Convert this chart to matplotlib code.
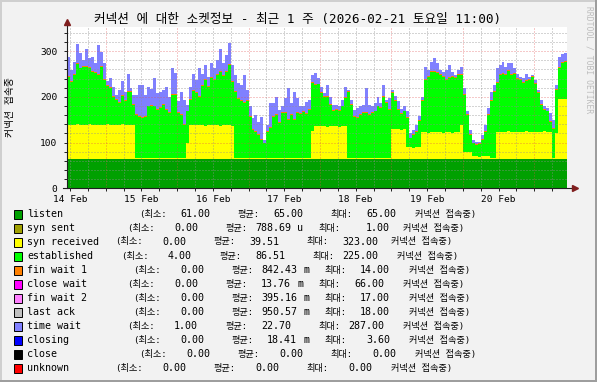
"""RRDtool-style weekly socket-state graph (stacked areas, hourly steps)."""

import numpy as np
import matplotlib
matplotlib.use("Agg")
import matplotlib.pyplot as plt
from matplotlib.patches import Rectangle

W, H = 597, 382
MONO = ["DejaVu Sans Mono", "Noto Sans CJK KR"]

TITLE = "커넥션 에 대한 소켓정보 - 최근 1 주 (2026-02-21 토요일 11:00)"
Y_LABEL = "커넥션 접속중"
DAY_LABELS = ["14 Feb", "15 Feb", "16 Feb", "17 Feb", "18 Feb", "19 Feb", "20 Feb"]

# hourly values, hour 0 = 14 Feb 11:00
LISTEN = 65
FIN_WAIT_1 = 2
SYN_RECEIVED = [
    74, 73, 74, 75, 74, 74, 73, 75, 74, 74, 73, 74,
    74, 75, 74, 73, 74, 74, 75, 74, 73, 74, 74, 2,
    2, 2, 2, 2, 2, 2, 2, 2, 2, 2, 2, 2,
    2, 2, 2, 2, 35, 73, 74, 73, 73, 74, 72, 73,
    74, 73, 73, 72, 74, 73, 73, 72, 2, 2, 2, 2,
    2, 2, 2, 2, 2, 2, 2, 2, 2, 2, 2, 2,
    2, 2, 2, 2, 2, 2, 2, 2, 2, 2, 60, 71,
    72, 71, 71, 70, 71, 72, 71, 70, 71, 71, 2, 2,
    2, 2, 2, 2, 2, 2, 2, 2, 2, 2, 2, 2,
    2, 64, 65, 64, 63, 64, 25, 25, 24, 25, 26, 58,
    58, 57, 58, 58, 59, 58, 57, 58, 58, 57, 58, 58,
    74, 15, 15, 14, 5, 5, 4, 5, 5, 5, 2, 2,
    59, 59, 58, 59, 60, 59, 59, 58, 59, 59, 60, 59,
    59, 58, 59, 59, 60, 59, 59, 2, 55, 130, 131, 130,
]
ESTABLISHED = [
    105, 94, 109, 131, 123, 127, 127, 123, 116, 113, 109, 127,
    98, 83, 80, 61, 54, 47, 61, 51, 72, 71, 43, 93,
    90, 86, 90, 112, 113, 112, 104, 108, 115, 104, 97, 137,
    137, 97, 93, 72, 68, 55, 73, 70, 62, 84, 99, 84,
    103, 99, 110, 117, 106, 117, 132, 95, 144, 129, 123, 119,
    123, 90, 61, 57, 50, 39, 31, 57, 64, 90, 93, 75,
    97, 97, 83, 93, 83, 97, 95, 99, 96, 104, 105, 90,
    90, 72, 64, 64, 46, 32, 35, 35, 43, 61, 144, 115,
    90, 86, 93, 97, 97, 93, 97, 101, 112, 108, 133, 119,
    104, 79, 61, 42, 35, 39, 63, 19, 27, 34, 56, 67,
    114, 121, 132, 132, 129, 125, 121, 114, 118, 121, 118, 125,
    109, 124, 80, 37, 28, 25, 28, 36, 54, 90, 123, 144,
    106, 124, 128, 124, 131, 124, 126, 117, 113, 106, 109, 113,
    120, 106, 84, 58, 47, 44, 22, 63, 95, 68, 79, 82,
]
TIME_WAIT = [
    42, 24, 27, 42, 31, 13, 38, 20, 31, 19, 64, 31,
    34, 9, 20, 20, 9, 27, 31, 19, 39, 7, 20, 42,
    67, 70, 45, 41, 35, 60, 35, 33, 31, 49, 34, 57,
    46, 24, 49, 52, 12, 27, 35, 27, 61, 24, 31, 20,
    30, 24, 31, 49, 27, 35, 45, 35, 35, 32, 34, 60,
    23, 20, 23, 34, 27, 49, 6, 13, 53, 27, 38, 27,
    13, 31, 67, 24, 59, 31, 16, 13, 24, 20, 16, 24,
    13, 12, 6, 24, 16, 12, 9, 9, 12, 23, 2, 9,
    12, 20, 17, 16, 53, 20, 13, 16, 19, 9, 24, 5,
    24, 5, 8, 17, 9, 9, 13, 9, 9, 13, 9, 8,
    27, 13, 20, 27, 19, 9, 9, 20, 27, 9, 5, 9,
    16, 13, 6, 9, 6, 5, 2, 9, 13, 13, 19, 13,
    31, 20, 23, 16, 16, 23, 10, 9, 5, 9, 13, 5,
    2, 5, 5, 9, 6, 5, 16, 18, 9, 23, 16, 17,
]

LEGEND_NAMES = ["listen", "syn sent", "syn received", "established", "fin wait 1",
                "close wait", "fin wait 2", "last ack", "time wait", "closing",
                "close", "unknown"]
LEGEND_COLORS = ["#00A000", "#A0A000", "#FFFF00", "#00FF00", "#FF8000", "#FF00FF",
                 "#FF80FF", "#C0C0C0", "#8080FF", "#0000FF", "#000000", "#FF0000"]
LEGEND_MIN = ["61.00", "0.00", "0.00", "4.00", "0.00", "0.00", "0.00", "0.00",
              "1.00", "0.00", "0.00", "0.00"]
LEGEND_AVG = ["65.00", "788.69", "39.51", "86.51", "842.43", "13.76", "395.16",
              "950.57", "22.70", "18.41", "0.00", "0.00"]
LEGEND_AVG_UNIT = ["", "u", "", "", "m", "m", "m", "m", "", "m", "", ""]
LEGEND_MAX = ["65.00", "1.00", "323.00", "225.00", "14.00", "66.00", "17.00",
              "18.00", "287.00", "3.60", "0.00", "0.00"]

# legend column positions (px) per row
ROW_X = [139, 127, 115, 121, 133, 127, 133, 133, 127, 133, 139, 115]
ROW_MAX_RIGHT = [396, 390, 378, 378, 390, 384, 390, 390, 384, 390, 396, 372]

GRID = (0.56, 0.56, 0.56, 0.75)
MGRID = (0.87, 0.31, 0.31, 0.6)
ARROW = (0.5, 0.12, 0.12)
AXIS = (0.12, 0.12, 0.12)


def fx(x):
    return x / W


def fy(y):
    return 1 - y / H


fig = plt.figure(figsize=(W / 100, H / 100), dpi=100, facecolor="#F2F2F2")

x0, x1, y0 = 67, 567, 188.3
ymax, ppu = 352, 0.4573
ax_h = ymax * ppu
ax = fig.add_axes([fx(x0), fy(y0), (x1 - x0) / W, ax_h / H])
ax.set_facecolor("white")
n = len(ESTABLISHED)
ax.set_xlim(0, n)
ax.set_ylim(0, ymax)
for s in ax.spines.values():
    s.set_visible(False)

edges = np.arange(n + 1)
base = np.zeros(n)
layers = [
    (np.full(n, LISTEN), LEGEND_COLORS[0]),
    (np.array(SYN_RECEIVED), LEGEND_COLORS[2]),
    (np.array(ESTABLISHED), LEGEND_COLORS[3]),
    (np.full(n, FIN_WAIT_1), LEGEND_COLORS[4]),
    (np.array(TIME_WAIT), LEGEND_COLORS[8]),
]
for vals, col in layers:
    top = base + vals
    ax.stairs(top, edges, baseline=base, fill=True, color=col, lw=0,
              antialiased=False, zorder=1)
    base = top

# grid on top of the data, like rrdtool
for v in range(20, ymax, 20):
    ax.axhline(v, color=MGRID if v % 100 == 0 else GRID, lw=0.72,
               dashes=(1, 2), zorder=3)
for h in range(1, n, 6):
    ax.axvline(h, color=MGRID if (h - 13) % 24 == 0 else GRID, lw=0.72,
               dashes=(1, 2), zorder=3)

ax.set_yticks([0, 100, 200, 300])
ax.set_yticks(range(20, ymax, 20), minor=True)
ax.set_yticklabels(["0", "100", "200", "300"], family=MONO, fontsize=6.8)
ax.set_xticks(range(1, n, 24))
ax.set_xticklabels(DAY_LABELS, family=MONO, fontsize=6.8)
ax.set_xticks(range(1, n, 6), minor=True)
ax.tick_params(which="both", length=2, width=0.7, color=AXIS, pad=5)
ax.tick_params(axis="x", pad=3)

# axes with arrows
ax.plot([0, 0], [0, (y0 - 22) / ax_h], color=AXIS, lw=0.8,
        transform=ax.transAxes, clip_on=False, zorder=4)
ax.plot([0], [(y0 - 22) / ax_h], marker="^", ms=4, color=ARROW,
        transform=ax.transAxes, clip_on=False, zorder=5)
ax.plot([-4 / 500, 508 / 500], [0, 0], color=AXIS, lw=0.8,
        transform=ax.transAxes, clip_on=False, zorder=4)
ax.plot([508 / 500], [0], marker=">", ms=4, color=ARROW,
        transform=ax.transAxes, clip_on=False, zorder=5)

fig.text(fx(298), fy(19), TITLE, ha="center", va="center", family=MONO, fontsize=9.1)
fig.text(fx(10), fy(107), Y_LABEL, rotation=90, ha="center", va="center",
         family=MONO, fontsize=7)
fig.text(fx(589), fy(60), "RRDTOOL / TOBI OETIKER", rotation=270, ha="center",
         va="center", family=MONO, fontsize=5.8, color="#BDBDBD")

# legend rows
for i, name in enumerate(LEGEND_NAMES):
    yc = 214 + 14 * i
    fig.add_artist(Rectangle((fx(14), fy(yc + 4.5)), 8 / W, 9 / H,
                             transform=fig.transFigure, facecolor=LEGEND_COLORS[i],
                             edgecolor="black", lw=0.7))
    bx = ROW_X[i]
    kw = dict(va="center", family=MONO)
    fig.text(fx(27), fy(yc), name, ha="left", fontsize=7.2, **kw)
    fig.text(fx(bx), fy(yc), "(최소:", ha="left", fontsize=6.6, **kw)
    fig.text(fx(bx + 71), fy(yc), LEGEND_MIN[i], ha="right", fontsize=7.2, **kw)
    fig.text(fx(bx + 98), fy(yc), "평균:", ha="left", fontsize=6.6, **kw)
    fig.text(fx(bx + 164), fy(yc), LEGEND_AVG[i], ha="right", fontsize=7.2, **kw)
    if LEGEND_AVG_UNIT[i]:
        fig.text(fx(bx + 170), fy(yc), LEGEND_AVG_UNIT[i], ha="left", fontsize=7.2, **kw)
    fig.text(fx(bx + 191), fy(yc), "최대:", ha="left", fontsize=6.6, **kw)
    fig.text(fx(ROW_MAX_RIGHT[i]), fy(yc), LEGEND_MAX[i], ha="right", fontsize=7.2, **kw)
    fig.text(fx(bx + 276), fy(yc), "커넥션 접속중)", ha="left", fontsize=6.6, **kw)

# shaded frame
for (x, y, w, h, c) in [(0, 0, W, 2, "#CFCFCF"), (0, 0, 2, H, "#CFCFCF"),
                        (0, H - 2, W, 2, "#9E9E9E"), (W - 2, 0, 2, H, "#9E9E9E")]:
    fig.add_artist(Rectangle((fx(x), fy(y + h)), w / W, h / H, transform=fig.transFigure,
                             facecolor=c, edgecolor="none"))

fig.savefig("out.png", dpi=100, facecolor=fig.get_facecolor())
